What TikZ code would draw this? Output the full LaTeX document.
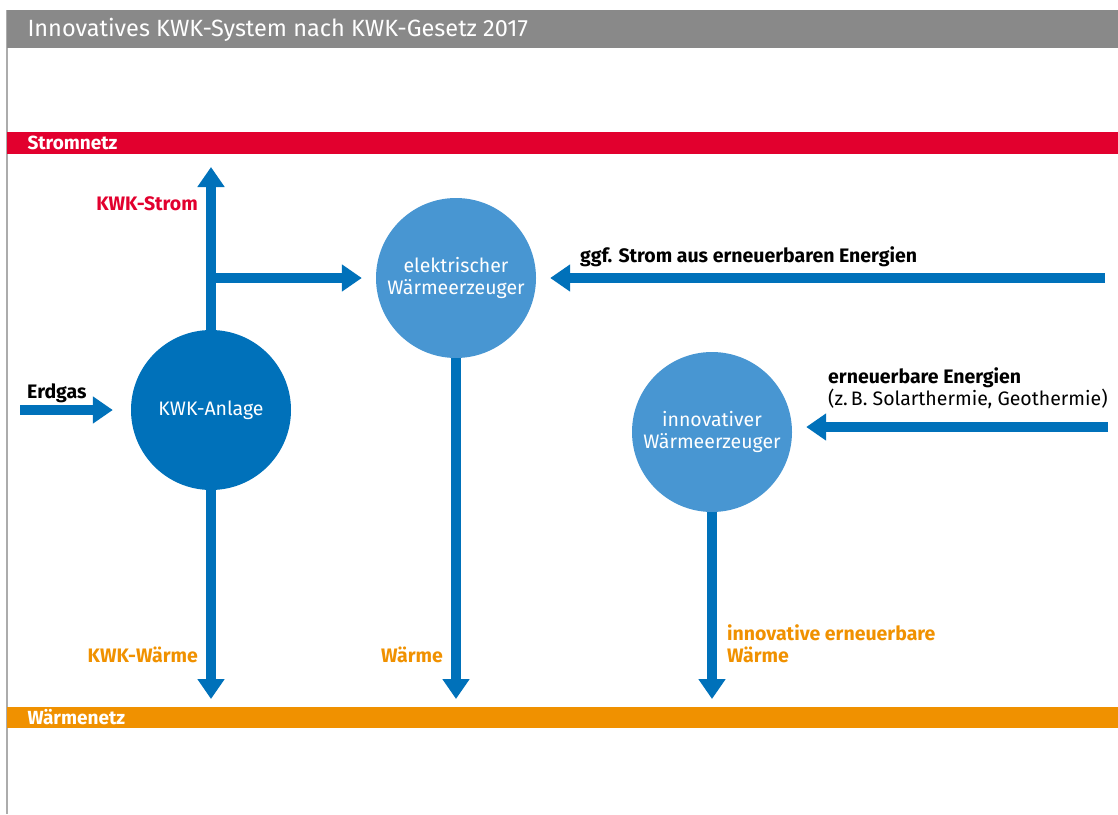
\documentclass[tikz,border=0pt]{standalone}
\usepackage{fontspec}
\setmainfont{Fira Sans}
\usepackage{tikz}
\usetikzlibrary{arrows.meta,positioning}
\definecolor{flowblue}{RGB}{0,113,186}
\definecolor{heatblue}{RGB}{72,150,210}
\definecolor{gridred}{RGB}{226,0,46}
\definecolor{heatorange}{RGB}{240,145,0}
\definecolor{titlegray}{RGB}{137,137,137}

\begin{document}
\begin{tikzpicture}[
    x=1pt, y=-1pt,
    font=\fontsize{19.5}{21.5}\selectfont,
    plant/.style={circle, minimum size=160pt, inner sep=0pt, align=center, text=white},
    chp/.style={plant, fill=flowblue},
    heater/.style={plant, fill=heatblue},
    flow/.style={-{Triangle[length=20pt, width=26pt]}, line width=10pt, draw=flowblue},
    bartext/.style={anchor=west, text=white, font=\fontsize{19}{21}\selectfont\bfseries},
    label/.style={align=left, inner sep=0pt},
    power/.style={label, text=gridred, font=\fontsize{19.5}{21.5}\selectfont\bfseries},
    heat/.style={label, text=heatorange, font=\fontsize{19.5}{21.5}\selectfont\bfseries}
  ]
    \useasboundingbox (0,0) rectangle (1118,814);

    % frame, title and the two grids
    \draw[titlegray!70, line width=1.5pt] (7,10) -- (7,814);
    \fill[titlegray] (7,10) rectangle (1118,48);
    \node[anchor=west, text=white, font=\fontsize{23.5}{26}\selectfont] (title) at (24,30)
      {Innovatives KWK-System nach KWK-Gesetz 2017};
    \fill[gridred] (7,132) rectangle (1118,154);
    \node[bartext] (stromnetz) at (24,143) {Stromnetz};
    \fill[heatorange] (7,707) rectangle (1118,728);
    \node[bartext] (waermenetz) at (24,717.5) {Wärmenetz};

    % plants
    \node[chp] (kwk) at (211,410) {KWK-Anlage};
    \node[heater] (elek) at (456,278) {elektrischer\\Wärmeerzeuger};
    \node[heater] (innov) at (712,432) {innovativer\\Wärmeerzeuger};

    % free ends of the flows
    \coordinate (gas) at (20,410);
    \coordinate (stromup) at (211,167);
    \coordinate (branch) at (211,278);
    \coordinate (eestrom) at (1105,278);
    \coordinate (eewaerme) at (1108,427);
    \coordinate (kwkdown) at (211,699);
    \coordinate (elekdown) at (456,699);
    \coordinate (innovdown) at (712,699);

    \draw[flow] (kwk) -- (stromup);
    \draw[flow, shorten >=14pt] (branch) -- (elek);
    \draw[flow, shorten >=14pt] (eestrom) -- (elek);
    \draw[flow, shorten >=14pt] (eewaerme) -- (eewaerme -| innov.east);
    \draw[flow, shorten >=18pt] (gas) -- (kwk);
    \draw[flow] (kwk) -- (kwkdown);
    \draw[flow] (elek) -- (elekdown);
    \draw[flow] (innov) -- (innovdown);

    % labels
    \node[power, anchor=base east] (kwkstrom) at (198,210) {KWK-Strom};
    \node[heat, anchor=base east] (kwkwaerme) at (198,662) {KWK-Wärme};
    \node[heat, anchor=base east] (waerme) at (443,662) {Wärme};
    \node[heat, anchor=base west] (innovwaerme) at (727,662) {innovative erneuerbare\\Wärme};
    \node[label, anchor=base west, font=\fontsize{19.5}{21.5}\selectfont\bfseries] (erdgas) at (27,398) {Erdgas};
    \node[label, anchor=base west, font=\fontsize{19.5}{21.5}\selectfont\bfseries] (ggf) at (580,262)
      {ggf. Strom aus erneuerbaren Energien};
    \node[label, anchor=base west] (ee) at (828,405)
      {\textbf{erneuerbare Energien}\\(z.\,B. Solarthermie, Geothermie)};
  \end{tikzpicture}
\end{document}
